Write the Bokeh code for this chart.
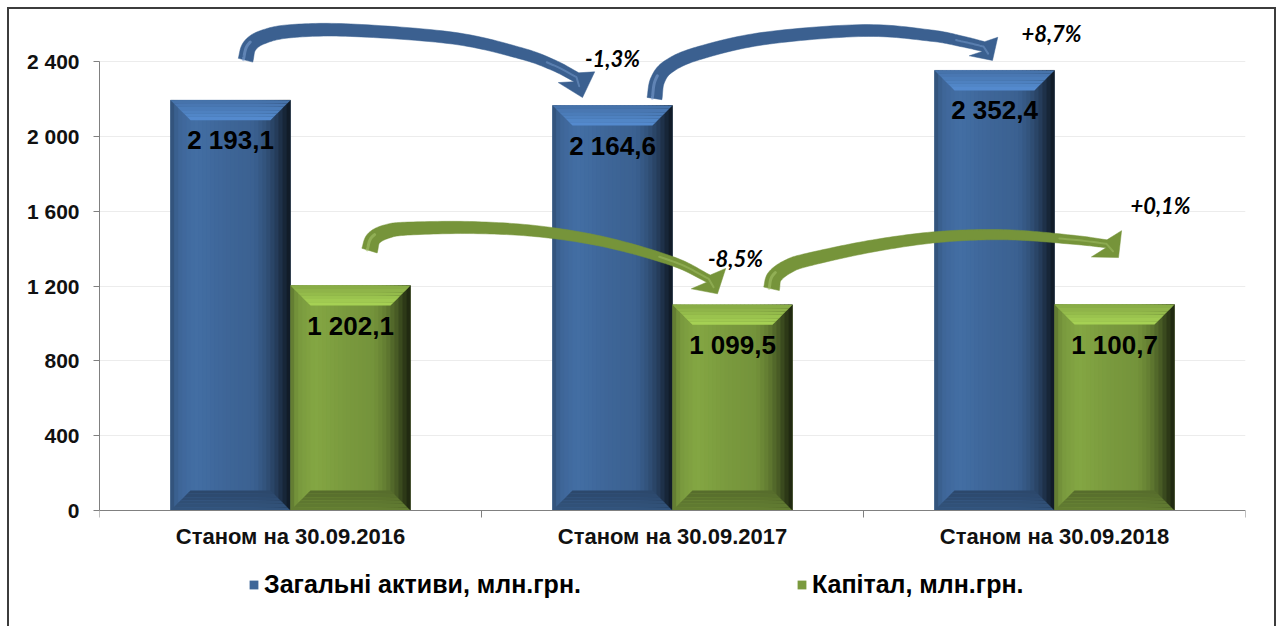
import numpy as np
from bokeh.plotting import figure
from bokeh.models import FixedTicker, Legend, LegendItem, Range1d, Span
from bokeh.core.properties import value
from bokeh.embed import file_html
from bokeh.resources import INLINE

# ---------------- data ----------------
categories = ["Станом на 30.09.2016", "Станом на 30.09.2017", "Станом на 30.09.2018"]
assets = [2193.1, 2164.6, 2352.4]
capital = [1202.1, 1099.5, 1100.7]
series_names = ["Загальні активи, млн.грн.", "Капітал, млн.грн."]
y_ticks = [0, 400, 800, 1200, 1600, 2000, 2400]
y_tick_labels = ["0", "400", "800", "1 200", "1 600", "2 000", "2 400"]

# ---------------- layout / style ----------------
W, H = 1269, 619
ML, MR, MT, MB = 90, 33, 6, 2
FW, FH = W - ML - MR, H - MT - MB
TOP_TICK_PX = 449          # px between value 0 and the top tick
ZERO_PX = 495              # px from frame top down to value 0
n = len(categories)
SX = FW / n
SY = TOP_TICK_PX / y_ticks[-1]
y_end = ZERO_PX / SY
y_start = -(FH - ZERO_PX) / SY
bw = 120 / SX
BEV = 20
FONT = value("Liberation Sans")
AXIS_C = "#808080"

BLUE = (62, 102, 152)
GREEN = (122, 154, 62)
ARROW_BLUE = "#3b6090"
ARROW_GREEN = "#76943a"
HI_BLUE = "#7fa3d4"
HI_GREEN = "#a8c56c"


def col(rgb, m):
    return "#%02x%02x%02x" % tuple(int(max(0, min(255, round(c * m)))) for c in rgb)


p = figure(width=W, height=H, x_range=Range1d(0, n), y_range=Range1d(y_start, y_end),
           output_backend="svg", toolbar_location=None,
           min_border_left=ML, min_border_right=MR, min_border_top=MT, min_border_bottom=MB)
p.styles = {"margin-left": "7px", "margin-top": "7px",
            "border-top": "2px solid #3c3c3c", "border-left": "2px solid #3c3c3c",
            "border-right": "2px solid #3c3c3c"}
p.outline_line_color = None
p.background_fill_color = "white"
p.border_fill_color = "white"

# y axis
p.yaxis.ticker = FixedTicker(ticks=y_ticks)
p.yaxis.major_label_overrides = {t: l for t, l in zip(y_ticks, y_tick_labels)}
p.yaxis.bounds = (0, y_ticks[-1])
p.yaxis.minor_tick_line_color = None
p.yaxis.major_tick_in = 0
p.yaxis.major_tick_out = 6
p.yaxis.major_tick_line_color = AXIS_C
p.yaxis.axis_line_color = AXIS_C
p.yaxis.major_label_text_font = "Liberation Sans"
p.yaxis.major_label_text_font_style = "bold"
p.yaxis.major_label_text_font_size = "21px"
p.yaxis.major_label_text_color = "#111111"
p.yaxis.major_label_standoff = 14

p.xaxis.visible = False
p.xgrid.visible = False
p.ygrid.grid_line_color = "#ececec"

# ---------------- bars ----------------
prof_u = [0, 0.03, 0.08, 0.2, 0.3, 0.45, 0.7, 0.8, 0.88, 0.94, 1.0]
prof_m = [0.72, 0.9, 1.0, 1.08, 1.05, 1.0, 0.95, 0.8, 0.6, 0.4, 0.22]
NS = 30

base_renderers = []
strip = dict(l=[], r=[], t=[], c=[])
bev_xs, bev_ys, bev_c = [], [], []
bar_centers = {}
for s, (vals, rgb) in enumerate([(assets, BLUE), (capital, GREEN)]):
    lefts = [i + 0.5 - bw + s * bw for i in range(n)]
    rights = [l + bw for l in lefts]
    bar_centers[s] = [l + bw / 2 for l in lefts]
    r = p.quad(left=lefts, right=rights, bottom=0, top=vals, fill_color=col(rgb, 1.0), line_color=None)
    base_renderers.append(r)
    bx, by = BEV / SX, BEV / SY
    for x0, x1, v in zip(lefts, rights, vals):
        edges = np.linspace(x0, x1, NS + 1)
        for k in range(NS):
            u = (k + 0.5) / NS
            strip["l"].append(edges[k]); strip["r"].append(edges[k + 1]); strip["t"].append(v)
            strip["c"].append(col(rgb, float(np.interp(u, prof_u, prof_m))))
        NL = 6
        for k in range(NL):
            d0, d1 = k / NL, (k + 1) / NL
            bev_xs.append([x0 + bx * d0, x1 - bx * d0, x1 - bx * d1, x0 + bx * d1])
            bev_ys.append([v - by * d0, v - by * d0, v - by * d1, v - by * d1])
            bev_c.append(col(rgb, 1.1 + 0.28 * (k + 0.5) / NL))
        for k in range(NL):
            d0, d1 = k / NL, (k + 1) / NL
            bev_xs.append([x0 + bx * d0, x1 - bx * d0, x1 - bx * d1, x0 + bx * d1])
            bev_ys.append([by * d0, by * d0, by * d1, by * d1])
            bev_c.append(col(rgb, 0.82 - 0.12 * (k + 0.5) / NL))

p.quad(left=strip["l"], right=strip["r"], bottom=0, top=strip["t"], fill_color=strip["c"],
       line_color=strip["c"], line_width=0.5)
p.patches(xs=bev_xs, ys=bev_ys, fill_color=bev_c, line_color=None)

# ---------------- category axis (drawn at value 0) ----------------
p.add_layout(Span(location=0, dimension="width", line_color=AXIS_C, line_width=1))
p.segment(x0=list(range(n + 1)), x1=list(range(n + 1)), y0=0, y1=-7 / SY, line_color=AXIS_C, line_width=1)
p.text(x=[i + 0.5 for i in range(n)], y=0, text=categories, y_offset=26,
       text_align="center", text_baseline="middle", text_font=FONT, text_font_style="bold",
       text_font_size="22px", text_color="#111111")

# ---------------- arrows ----------------
def catmull(pts, per=16):
    pts = np.asarray(pts, float)
    P = np.vstack([2 * pts[0] - pts[1], pts, 2 * pts[-1] - pts[-2]])
    out = []
    for i in range(1, len(P) - 2):
        p0, p1, p2, p3 = P[i - 1], P[i], P[i + 1], P[i + 2]
        for t in np.linspace(0, 1, per, endpoint=False):
            t2, t3 = t * t, t * t * t
            out.append(0.5 * (2 * p1 + (-p0 + p2) * t + (2 * p0 - 5 * p1 + 4 * p2 - p3) * t2
                              + (-p0 + 3 * p1 - 3 * p2 + p3) * t3))
    out.append(pts[-1])
    return np.array(out)


def to_px(x, y):
    return np.array([x * SX, (y_end - y) * SY])


def to_data(pts):
    pts = np.asarray(pts)
    return pts[:, 0] / SX, y_end - pts[:, 1] / SY


def arrow(series, i_from, offsets, tip_off, w0, w1, hw, color, hi):
    vals = assets if series == 0 else capital
    a0 = to_px(bar_centers[series][i_from], vals[i_from])
    a1 = to_px(bar_centers[series][i_from + 1], vals[i_from + 1])
    way = a0 + np.asarray(offsets, float)
    tip = a1 + np.asarray(tip_off, float)
    c = catmull(way)
    tan = np.gradient(c, axis=0)
    tan /= np.linalg.norm(tan, axis=1)[:, None]
    nrm = np.stack([-tan[:, 1], tan[:, 0]], axis=1)
    w = (np.linspace(w0, w1, len(c)) / 2)[:, None]
    L, R = c + nrm * w, c - nrm * w
    base = c[-1]
    d = tip - base
    d /= np.linalg.norm(d)
    nh = np.array([-d[1], d[0]])
    poly = np.vstack([L, [base + nh * hw, tip, base - nh * hw], R[::-1]])
    xs, ys = to_data(poly)
    p.patch(xs, ys, fill_color=color, line_color=color, line_width=0.5)
    # soft bevel highlight near tail and head
    k = max(3, len(c) // 6)
    hx, hy = to_data(c[:k] - nrm[:k] * w[:k] * 0.3)
    p.line(hx, hy, line_color=hi, line_width=3, line_alpha=0.55, line_cap="round")
    hx, hy = to_data(np.vstack([c[-k:], base + d * hw * 0.5]))
    p.line(hx, hy, line_color=hi, line_width=2, line_alpha=0.45, line_cap="round")


arrow(0, 0, [(15, -40), (19, -54), (32, -63), (60, -69), (120, -70), (223, -62), (290, -47), (323, -35), (346, -23)],
      (-30, -8), 15, 10, 19, ARROW_BLUE, HI_BLUE)
arrow(0, 1, [(42, -7), (45, -25), (56, -39), (85, -52), (151, -67), (251, -75), (318, -70), (350, -64), (371, -59)],
      (-2, -10), 15, 10, 17, ARROW_BLUE, HI_BLUE)
arrow(1, 0, [(19, -35), (23, -47), (36, -54), (57, -57), (123, -58), (190, -54), (257, -43), (323, -24), (358, -7)],
      (-15, -11), 16, 8, 20, ARROW_GREEN, HI_GREEN)
arrow(1, 1, [(39, -16), (42, -28), (55, -38), (75, -45), (141, -59), (208, -68), (275, -70), (341, -65), (374, -61)],
      (4, -47), 16, 8, 20, ARROW_GREEN, HI_GREEN)

# ---------------- labels ----------------
def fmt(v):
    return f"{v:,.1f}".replace(",", " ").replace(".", ",")


for s, vals in enumerate([assets, capital]):
    p.text(x=bar_centers[s], y=vals, text=[fmt(v) for v in vals], y_offset=40,
           text_align="center", text_baseline="middle", text_font=FONT,
           text_font_style="bold", text_font_size="26px", text_color="#000000")

pct_x, pct_y, pct_t, pct_dx, pct_dy = [], [], [], [], []
pct_offsets = {(0, 1): (0, -47), (0, 2): (57, -37), (1, 1): (3, -46), (1, 2): (46, -99)}
for s, vals in enumerate([assets, capital]):
    for i in range(1, n):
        ch = (vals[i] / vals[i - 1] - 1) * 100
        pct_t.append(f"{ch:+.1f}%".replace(".", ","))
        pct_x.append(bar_centers[s][i]); pct_y.append(vals[i])
        dx, dy = pct_offsets[(s, i)]
        pct_dx.append(dx); pct_dy.append(dy)
p.text(x=pct_x, y=pct_y, text=pct_t, x_offset=pct_dx, y_offset=pct_dy,
       text_align="center", text_baseline="middle", text_font=value("Lato"),
       text_font_style="bold italic", text_font_size="22px", text_color="#000000")

# ---------------- legend ----------------
legend = Legend(items=[LegendItem(label=series_names[k], renderers=[base_renderers[k]]) for k in range(2)],
                location=(149, 27), orientation="horizontal", glyph_width=11, glyph_height=11,
                label_standoff=5, label_width=100, spacing=215, padding=0, margin=0,
                border_line_color=None, background_fill_alpha=0,
                label_text_font="Liberation Sans", label_text_font_style="bold",
                label_text_font_size="25px", label_text_color="#000000")
p.add_layout(legend)

open("out.html", "w").write(file_html(p, INLINE))
